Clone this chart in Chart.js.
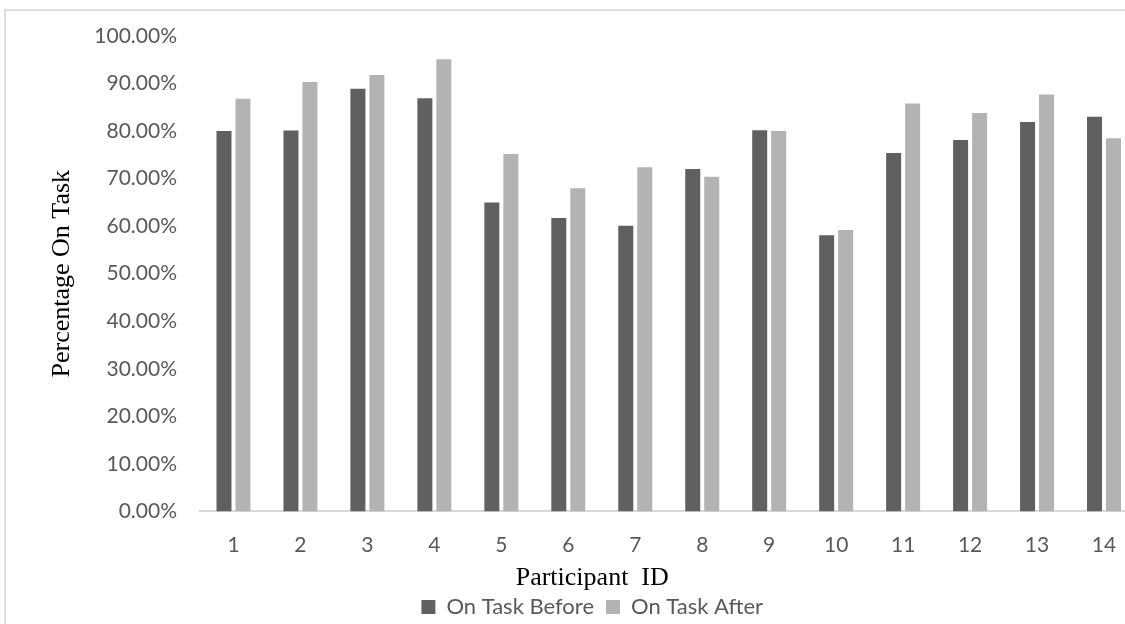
<!DOCTYPE html>
<html>
<head>
<meta charset="utf-8">
<title>Percentage On Task</title>
<script src="https://cdn.jsdelivr.net/npm/chart.js@4.4.1/dist/chart.umd.min.js"></script>
<style>
  html, body { margin: 0; padding: 0; background: #fff; overflow: hidden; }
  #frame {
    position: absolute; left: 4px; top: 9px; width: 1300px; height: 700px;
    border-left: 2px solid #dedede; border-top: 2px solid #dedede;
  }
  #wrap { position: absolute; left: 0; top: 0; }
</style>
</head>
<body>
<div id="frame"></div>
<div id="wrap"><canvas id="myBarChart" width="1160" height="628"></canvas></div>
<script>
// Data
const participants = ['1', '2', '3', '4', '5', '6', '7', '8', '9', '10', '11', '12', '13', '14'];
const onTaskBefore = [80.0, 80.1, 88.9, 86.9, 65.0, 61.7, 60.1, 72.0, 80.2, 58.1, 75.4, 78.1, 81.9, 83.0];
const onTaskAfter = [86.8, 90.3, 91.8, 95.1, 75.2, 68.0, 72.4, 70.4, 80.0, 59.2, 85.8, 83.8, 87.7, 78.5];

const tickColor = '#595959';
const sansFont = 'Lato, "Open Sans", sans-serif';
const serifFont = '"Liberation Serif", "Times New Roman", serif';

var ctx = document.getElementById('myBarChart').getContext('2d');
var myBarChart = new Chart(ctx, {
    type: 'bar',
    data: {
        labels: participants,
        datasets: [{
            label: 'On Task Before',
            data: onTaskBefore,
            backgroundColor: '#606060',
            borderWidth: 0
        }, {
            label: 'On Task After',
            data: onTaskAfter,
            backgroundColor: '#b3b3b3',
            borderWidth: 0
        }]
    },
    options: {
        responsive: false,
        animation: false,
        devicePixelRatio: 1,
        categoryPercentage: 0.567,
        barPercentage: 0.79,
        layout: {
            padding: { left: 47, top: 36, right: 22.5, bottom: 0 }
        },
        scales: {
            y: {
                min: 0,
                max: 100,
                afterFit: function (scale) { scale.width = 153; },
                grid: { display: false, drawTicks: false },
                border: { display: false },
                ticks: {
                    stepSize: 10,
                    padding: 23,
                    color: tickColor,
                    font: { family: sansFont, size: 21 },
                    callback: function (value) { return value.toFixed(2) + '%'; }
                },
                title: {
                    display: true,
                    text: 'Percentage On Task',
                    color: '#000',
                    font: { family: serifFont, size: 26 },
                    padding: { top: 0, bottom: 0 }
                }
            },
            x: {
                afterFit: function (scale) { scale.height = 48; },
                grid: { display: false, drawTicks: false },
                border: { display: true, color: '#d9d9d9', width: 2 },
                ticks: {
                    padding: 21,
                    color: tickColor,
                    font: { family: sansFont, size: 21 }
                }
            }
        },
        plugins: {
            title: {
                display: true,
                position: 'bottom',
                weight: 500,
                text: 'Participant  ID',
                color: '#000',
                font: { family: serifFont, size: 26, weight: 'normal', lineHeight: 1.1 },
                padding: { top: 4, bottom: -8 }
            },
            legend: {
                position: 'bottom',
                labels: {
                    boxWidth: 14,
                    boxHeight: 14,
                    padding: 12,
                    color: tickColor,
                    font: { family: sansFont, size: 22 }
                }
            },
            tooltip: { enabled: false }
        }
    }
});
</script>
</body>
</html>
